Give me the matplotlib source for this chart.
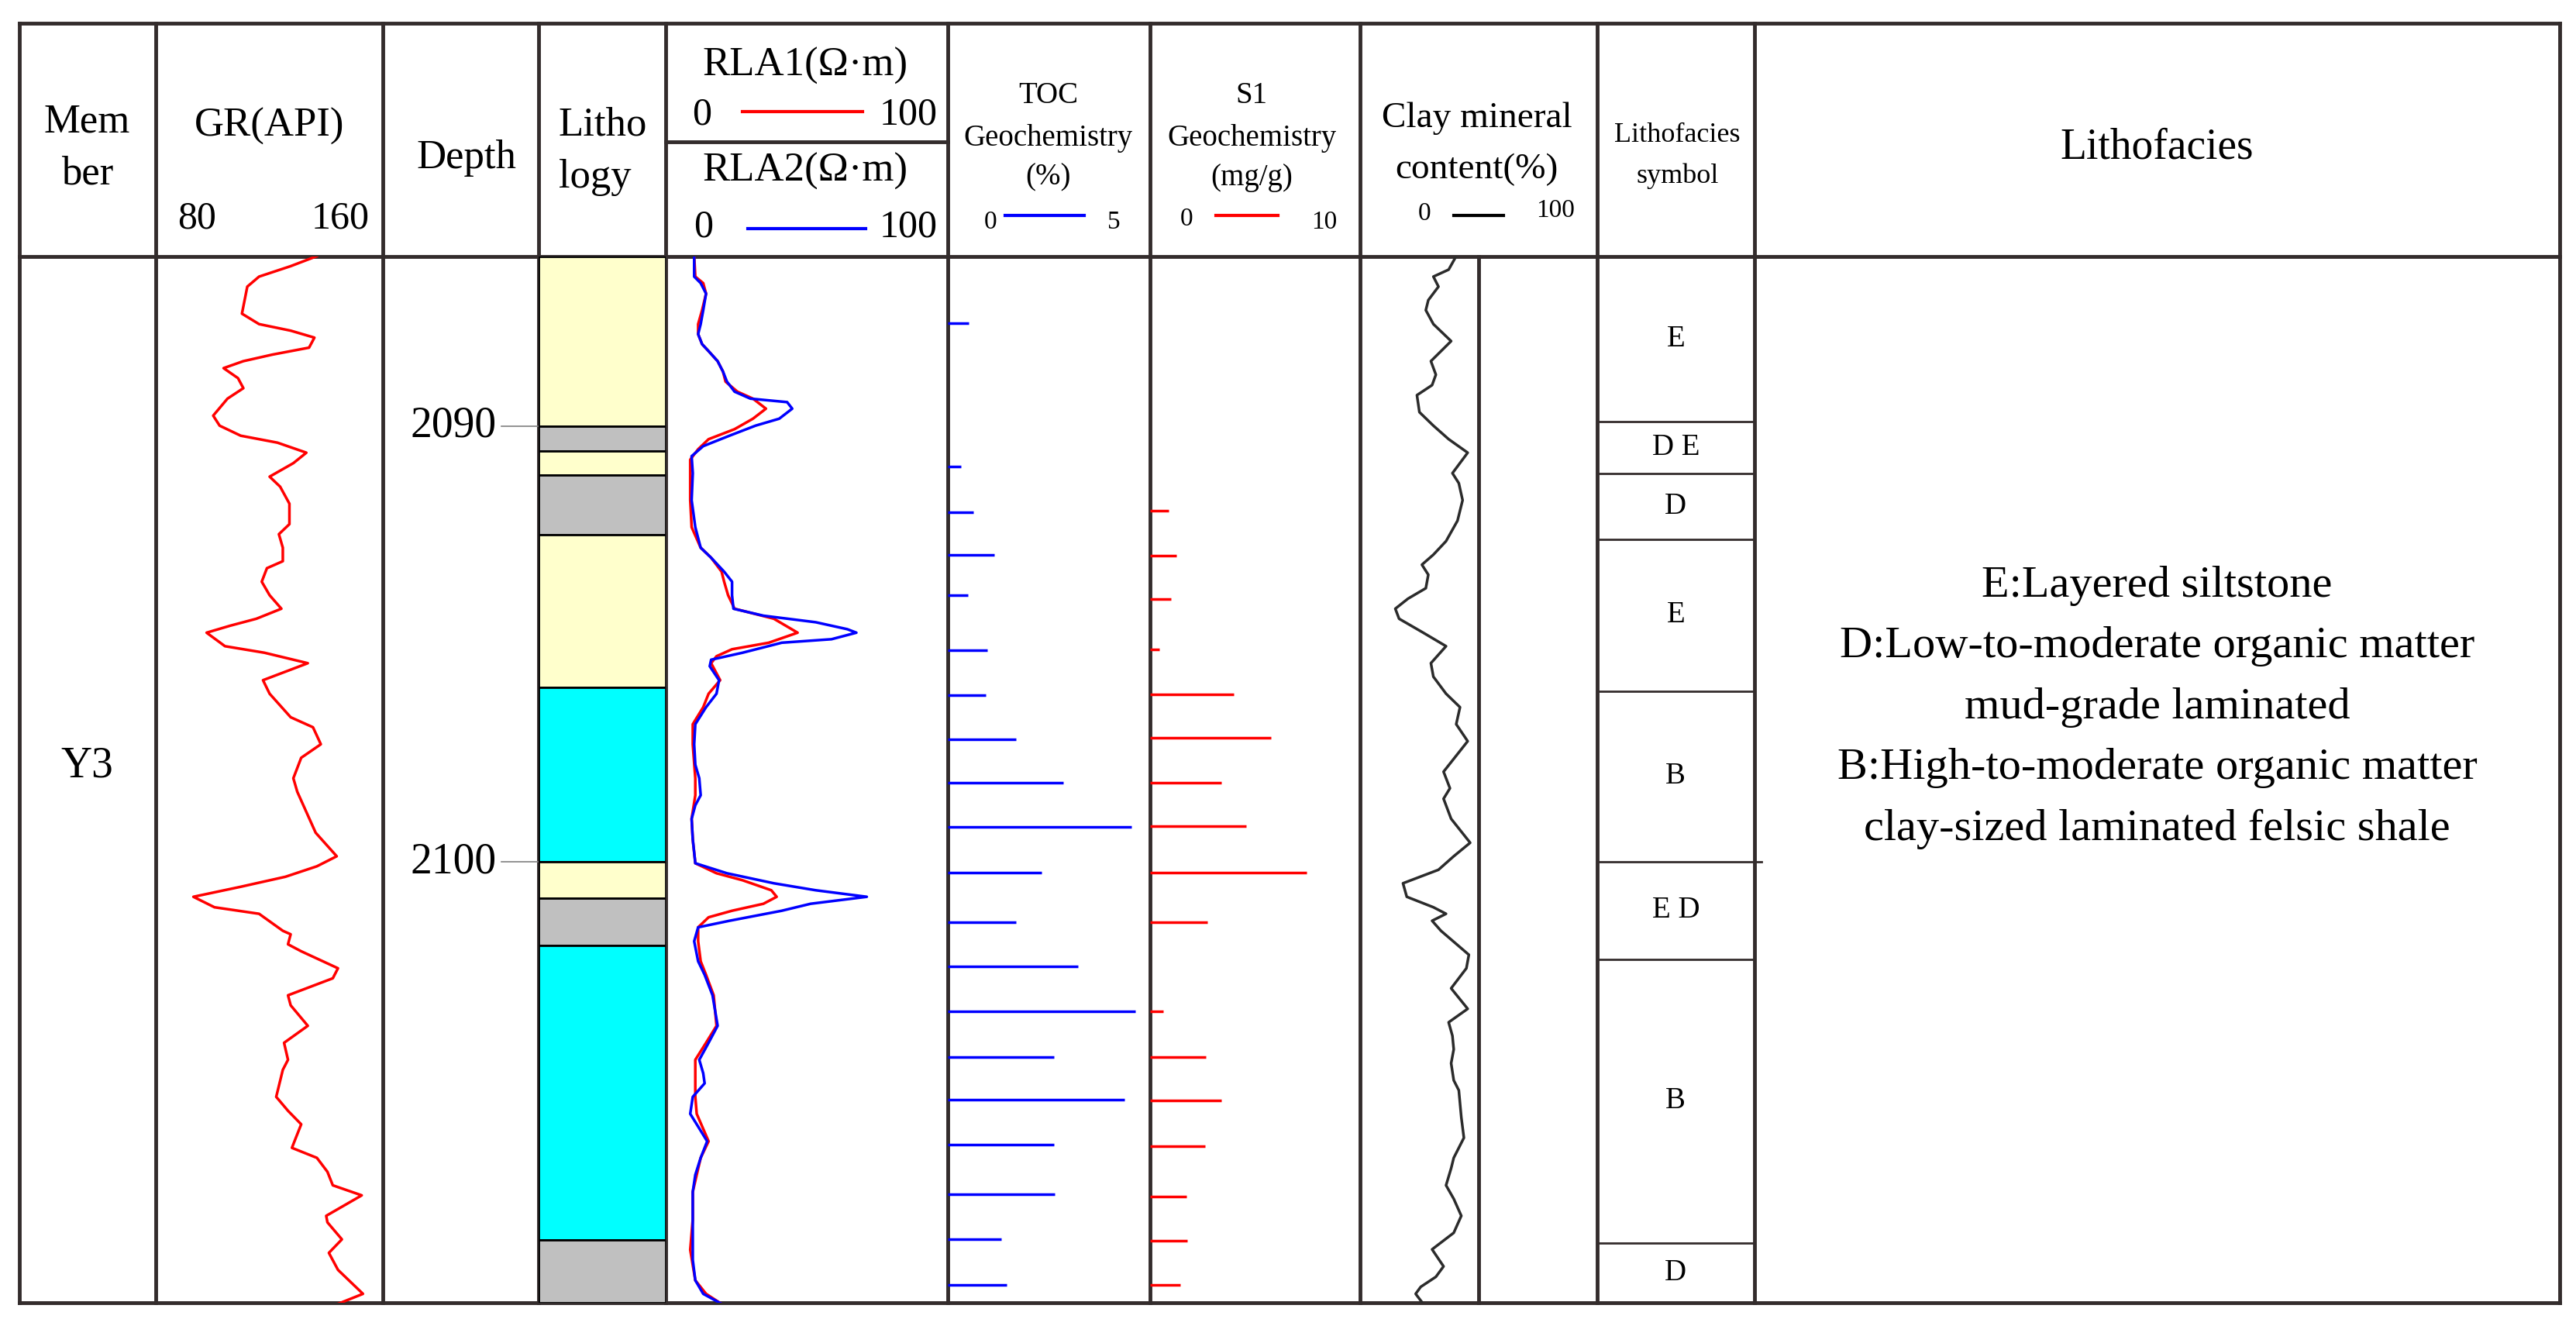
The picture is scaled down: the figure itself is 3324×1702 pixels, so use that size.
import matplotlib.pyplot as plt
from matplotlib.patches import Rectangle

plt.rcParams["font.family"] = ["Liberation Serif", "DejaVu Serif"]

# ---------------- data (depth in m) ----------------
gr_depth = [2086.10, 2086.33, 2086.57, 2086.80, 2087.42, 2087.66, 2087.81, 2087.97, 2088.20, 2088.36,
            2088.51, 2088.67, 2088.90, 2089.13, 2089.37, 2089.76, 2089.99, 2090.22, 2090.38, 2090.61,
            2090.85, 2091.16, 2091.39, 2091.78, 2092.25, 2092.48, 2092.79, 2093.10, 2093.26, 2093.57,
            2093.88, 2094.19, 2094.42, 2094.58, 2094.74, 2095.05, 2095.20, 2095.44, 2095.83, 2096.14,
            2096.68, 2096.91, 2097.30, 2097.61, 2098.08, 2098.39, 2099.33, 2099.87, 2100.10, 2100.34,
            2100.57, 2100.80, 2101.04, 2101.19, 2101.58, 2101.66, 2101.89, 2102.05, 2102.44, 2102.67,
            2103.06, 2103.29, 2103.76, 2104.15, 2104.54, 2104.77, 2105.39, 2105.71, 2106.02, 2106.33,
            2106.56, 2106.79, 2107.11, 2107.42, 2107.65, 2108.12, 2108.27, 2108.66, 2108.97, 2109.36,
            2109.91, 2110.14, 2110.31]
gr_value = [147.1, 132.4, 114.7, 108.1, 105.1, 114.7, 132.4, 145.7, 142.7, 122.1,
            105.9, 94.8, 102.9, 105.9, 97.0, 89.0, 92.6, 104.4, 125.0, 141.2,
            133.9, 120.6, 126.5, 131.7, 131.7, 125.8, 128.0, 128.0, 119.1, 116.2,
            120.6, 127.2, 113.2, 98.5, 85.3, 95.6, 117.7, 142.0, 116.9, 120.6,
            132.4, 144.9, 149.3, 138.3, 133.9, 136.1, 146.4, 158.2, 147.1, 129.5,
            104.4, 77.9, 89.7, 114.7, 128.0, 132.4, 130.9, 138.3, 158.9, 156.0,
            130.9, 132.4, 142.0, 128.7, 130.9, 128.0, 124.3, 130.9, 138.3, 135.3,
            133.1, 147.1, 153.0, 156.0, 172.2, 152.3, 153.0, 161.1, 153.8, 158.9,
            172.9, 158.9, 129.5]

rla2_depth = [2086.10, 2086.57, 2086.72, 2086.96, 2087.34, 2087.66, 2087.89, 2088.12, 2088.28, 2088.51,
              2088.75, 2088.98, 2089.21, 2089.37, 2089.45, 2089.60, 2089.83, 2089.99, 2090.22, 2090.46,
              2090.69, 2091.08, 2091.70, 2092.32, 2092.79, 2093.02, 2093.34, 2093.57, 2093.88, 2094.19,
              2094.35, 2094.50, 2094.66, 2094.74, 2094.89, 2094.97, 2095.20, 2095.36, 2095.51, 2095.83,
              2096.14, 2096.45, 2096.84, 2097.30, 2097.77, 2098.08, 2098.47, 2098.70, 2099.01, 2099.48,
              2100.03, 2100.26, 2100.49, 2100.65, 2100.80, 2100.96, 2101.12, 2101.35, 2101.50, 2101.82,
              2102.28, 2102.59, 2103.06, 2103.76, 2104.15, 2104.54, 2104.85, 2105.08, 2105.39, 2105.78,
              2106.02, 2106.41, 2106.79, 2107.18, 2107.57, 2108.20, 2109.13, 2109.60, 2109.91, 2110.14,
              2110.26]
rla2_value = [10.2, 10.2, 12.5, 14.4, 13.4, 12.5, 11.6, 13.0, 15.3, 18.5,
              20.4, 21.8, 24.5, 30.1, 43.1, 44.9, 40.3, 31.9, 22.7, 13.4,
              9.3, 9.7, 9.3, 10.6, 12.5, 16.2, 20.8, 23.6, 23.6, 24.1,
              34.7, 53.2, 64.4, 67.6, 58.8, 41.2, 27.3, 16.2, 15.7, 19.0,
              18.1, 14.4, 10.6, 10.2, 10.6, 12.0, 12.5, 10.6, 9.3, 9.7,
              10.6, 21.8, 38.4, 53.2, 71.3, 51.4, 41.2, 22.7, 11.6, 10.2,
              11.6, 13.9, 16.7, 18.5, 15.3, 12.0, 13.4, 13.9, 9.7, 8.8,
              11.1, 14.8, 12.5, 10.6, 9.7, 9.7, 9.7, 10.6, 13.4, 19.9,
              24.5]

rla1_depth = [2086.10, 2086.57, 2086.72, 2086.96, 2087.34, 2087.66, 2087.89, 2088.12, 2088.28, 2088.51,
              2088.75, 2088.98, 2089.21, 2089.37, 2089.60, 2089.83, 2090.07, 2090.30, 2090.53, 2090.77,
              2091.70, 2092.32, 2092.79, 2093.02, 2093.34, 2093.57, 2093.88, 2094.19, 2094.42, 2094.74,
              2094.97, 2095.12, 2095.28, 2095.44, 2095.83, 2096.14, 2096.45, 2096.84, 2097.30, 2098.08,
              2098.47, 2099.01, 2099.48, 2100.03, 2100.26, 2100.42, 2100.65, 2100.80, 2100.96, 2101.12,
              2101.27, 2101.50, 2101.82, 2102.28, 2102.59, 2103.06, 2103.76, 2104.15, 2104.54, 2105.08,
              2105.39, 2105.78, 2106.41, 2106.79, 2107.57, 2108.20, 2108.90, 2109.60, 2109.91, 2110.26]
rla1_value = [10.2, 10.6, 13.4, 14.4, 13.0, 11.6, 11.6, 13.0, 15.3, 18.5,
              20.4, 21.3, 25.5, 31.0, 35.6, 31.0, 24.5, 15.3, 11.6, 8.8,
              8.8, 9.3, 12.5, 16.2, 19.9, 20.8, 22.2, 24.5, 38.4, 46.8,
              36.6, 23.6, 18.1, 16.2, 19.4, 15.3, 13.4, 9.7, 9.7, 10.6,
              10.6, 9.3, 9.7, 10.6, 18.1, 27.3, 37.5, 39.4, 34.7, 23.6,
              15.3, 11.6, 11.6, 12.5, 14.4, 17.1, 18.1, 14.4, 10.6, 10.6,
              10.6, 11.1, 15.3, 12.5, 9.7, 9.7, 8.8, 10.6, 14.4, 22.7]

toc_depth = [2087.64, 2090.93, 2091.97, 2092.95, 2093.88, 2095.15, 2096.17, 2097.18, 2098.18, 2099.20,
             2100.25, 2101.38, 2102.40, 2103.42, 2104.47, 2105.45, 2106.49, 2107.63, 2108.66, 2109.70]
toc_value = [0.54, 0.34, 0.65, 1.20, 0.51, 1.01, 0.98, 1.75, 2.97, 4.73,
             2.41, 1.76, 3.35, 4.83, 2.72, 4.54, 2.72, 2.74, 1.38, 1.51]

s1_depth = [2091.94, 2092.98, 2093.97, 2095.12, 2096.15, 2097.15, 2098.18, 2099.17, 2100.25,
            2101.38, 2103.42, 2104.47, 2105.48, 2106.52, 2107.68, 2108.70, 2109.70]
s1_value = [0.92, 1.31, 1.02, 0.47, 4.12, 5.92, 3.48, 4.71, 7.68,
            2.82, 0.65, 2.75, 3.48, 2.71, 1.79, 1.82, 1.49]

clay_depth = [2086.10, 2086.41, 2086.57, 2086.80, 2087.11, 2087.34, 2087.66, 2088.05, 2088.51, 2088.82,
              2089.06, 2089.29, 2089.68, 2089.99, 2090.30, 2090.61, 2091.08, 2091.31, 2091.70, 2092.17,
              2092.64, 2092.95, 2093.18, 2093.41, 2093.72, 2093.96, 2094.19, 2094.42, 2094.74, 2095.05,
              2095.44, 2095.75, 2096.14, 2096.45, 2096.84, 2097.23, 2097.93, 2098.31, 2098.55, 2099.01,
              2099.56, 2099.87, 2100.18, 2100.49, 2100.80, 2101.04, 2101.19, 2101.35, 2101.58, 2102.13,
              2102.44, 2102.90, 2103.37, 2103.68, 2103.99, 2104.30, 2104.62, 2105.01, 2105.24, 2105.86,
              2106.33, 2106.79, 2107.03, 2107.42, 2107.73, 2108.12, 2108.51, 2108.89, 2109.28, 2109.52,
              2109.75, 2109.91, 2110.14, 2110.26]
clay_value = [81.1, 74.7, 61.8, 66.1, 57.5, 55.4, 61.8, 76.8, 59.7, 63.9,
              60.7, 47.9, 50.0, 61.8, 74.7, 90.8, 77.9, 83.3, 86.5, 82.2,
              72.5, 61.8, 52.1, 57.5, 55.4, 40.3, 29.6, 32.8, 53.2, 72.5,
              59.7, 61.8, 72.5, 84.3, 81.1, 90.8, 70.4, 75.8, 70.4, 76.8,
              92.9, 79.0, 66.1, 36.1, 39.3, 61.8, 72.5, 60.7, 68.2, 91.8,
              89.7, 76.8, 90.8, 74.7, 77.9, 79.0, 76.8, 79.0, 83.3, 85.4,
              87.6, 79.0, 76.8, 72.5, 79.0, 85.4, 79.0, 60.7, 70.4, 63.9,
              51.1, 46.8, 53.2, 53.2]

litho_top = [2086.11, 2090.00, 2090.57, 2091.13, 2092.49, 2096.00, 2100.00, 2100.83, 2101.92, 2108.68]
litho_bottom = [2090.00, 2090.57, 2091.13, 2092.49, 2096.00, 2100.00, 2100.83, 2101.92, 2108.68, 2110.11]
litho_type = ["silt", "mud", "silt", "mud", "silt", "shale", "silt", "mud", "shale", "mud"]
litho_colors = {"silt": "#FFFFCC", "mud": "#C0C0C0", "shale": "#00FFFF"}

facies_bounds = [2086.11, 2089.89, 2091.09, 2092.60, 2096.08, 2100.00, 2102.23, 2108.75, 2110.11]
facies_labels = ["E", "D E", "D", "E", "B", "E D", "B", "D"]

depth_ticks = [2090, 2100]
description = ["E:Layered siltstone",
               "D:Low-to-moderate organic matter",
               "mud-grade laminated",
               "B:High-to-moderate organic matter",
               "clay-sized laminated felsic shale"]

# ---------------- layout (in 1568 x 802 sketch units) ----------------
W, H = 1568.0, 802.0
col_x = [12, 95, 233, 328, 405, 577, 700, 828, 972, 1068, 1558]
top_y, head_y, bot_y = 14, 156, 792
d_top, d_bot = 2086.11, 2110.11
frame = "#332c2c"

fig = plt.figure(figsize=(33.24, 17.02), dpi=100)
bg = fig.add_axes([0, 0, 1, 1])
bg.set_xlim(0, W)
bg.set_ylim(H, 0)
bg.axis("off")


def dy(d):
    return head_y + (d - d_top) / (d_bot - d_top) * (bot_y - head_y)


def track(x0, x1, xlim):
    ax = fig.add_axes([x0 / W, 1 - bot_y / H, (x1 - x0) / W, (bot_y - head_y) / H])
    ax.set_xlim(*xlim)
    ax.set_ylim(d_bot, d_top)
    ax.axis("off")
    ax.patch.set_alpha(0)
    return ax


# lithology
ax_l = track(col_x[3], col_x[4], (0, 1))
for t, b, k in zip(litho_top, litho_bottom, litho_type):
    ax_l.add_patch(Rectangle((0, t), 1, b - t, facecolor=litho_colors[k],
                             edgecolor="black", linewidth=2))

# GR
ax_gr = track(col_x[1], col_x[2], (57, 184))
ax_gr.plot(gr_value, gr_depth, color="red", linewidth=2.5)

# resistivity
ax_r = track(col_x[4], col_x[5], (0, 100))
ax_r.plot(rla1_value, rla1_depth, color="red", linewidth=2.5)
ax_r.plot(rla2_value, rla2_depth, color="blue", linewidth=2.5)

# TOC
ax_t = track(col_x[5], col_x[6], (0, 5.2))
ax_t.hlines(toc_depth, 0, toc_value, color="blue", linewidth=2.5)

# S1
ax_s = track(col_x[6], col_x[7], (0, 10.3))
ax_s.hlines(s1_depth, 0, s1_value, color="red", linewidth=2.5)

# clay
ax_c = track(col_x[7], 900, (0, 100))
ax_c.plot(clay_value, clay_depth, color="#2b2b2b", linewidth=2.5)

# ---------------- frame ----------------
lw = 3.5
for x in col_x:
    bg.plot([x, x], [top_y, bot_y], color=frame, linewidth=lw)
for y in (top_y, head_y, bot_y):
    bg.plot([col_x[0], col_x[-1]], [y, y], color=frame, linewidth=lw)
bg.plot([col_x[4], col_x[5]], [86, 86], color=frame, linewidth=lw)
bg.plot([900, 900], [head_y, bot_y], color=frame, linewidth=lw)

for b in facies_bounds[1:-1]:
    bg.plot([col_x[8], col_x[9]], [dy(b), dy(b)], color=frame, linewidth=2)
bg.plot([col_x[9], 1072], [dy(2100), dy(2100)], color=frame, linewidth=2)
for lab, t, b in zip(facies_labels, facies_bounds[:-1], facies_bounds[1:]):
    bg.text((col_x[8] + col_x[9]) / 2, dy((t + b) / 2), lab, ha="center", va="center", fontsize=28)

for d in depth_ticks:
    bg.plot([305, col_x[3]], [dy(d), dy(d)], color="gray", linewidth=1.2)
    bg.text(302, dy(d), str(d), ha="right", va="center", fontsize=40)

for i, line in enumerate(description):
    bg.text(1313, 356 + i * 37, line, ha="center", va="center", fontsize=42)

bg.text(53, 466, "Y3", ha="center", va="center", fontsize=40)

# ---------------- headers ----------------
big = 38
bg.text(53, 74, "Mem", ha="center", va="center", fontsize=big)
bg.text(53, 106, "ber", ha="center", va="center", fontsize=big)
bg.text(164, 77, "GR(API)", ha="center", va="center", fontsize=big)
bg.text(120, 133, "80", ha="center", va="center", fontsize=big - 2)
bg.text(207, 133, "160", ha="center", va="center", fontsize=big - 2)
bg.text(284, 96, "Depth", ha="center", va="center", fontsize=big)
bg.text(367, 76, "Litho", ha="center", va="center", fontsize=big)
bg.text(362, 108, "logy", ha="center", va="center", fontsize=big)

bg.text(490, 40, "RLA1(Ω·m)", ha="center", va="center", fontsize=big)
bg.text(427, 70, "0", ha="center", va="center", fontsize=big - 2)
bg.plot([452, 525], [68, 68], color="red", linewidth=3)
bg.text(553, 70, "100", ha="center", va="center", fontsize=big - 2)
bg.text(490, 104, "RLA2(Ω·m)", ha="center", va="center", fontsize=big)
bg.text(428, 138, "0", ha="center", va="center", fontsize=big - 2)
bg.plot([455, 527], [139, 139], color="blue", linewidth=3)
bg.text(553, 138, "100", ha="center", va="center", fontsize=big - 2)

small = 28
bg.text(638, 58, "TOC", ha="center", va="center", fontsize=small)
bg.text(638, 84, "Geochemistry", ha="center", va="center", fontsize=small)
bg.text(638, 108, "(%)", ha="center", va="center", fontsize=small)
bg.text(603, 135, "0", ha="center", va="center", fontsize=small - 4)
bg.plot([612, 660], [131, 131], color="blue", linewidth=3)
bg.text(678, 135, "5", ha="center", va="center", fontsize=small - 4)

bg.text(762, 58, "S1", ha="center", va="center", fontsize=small)
bg.text(762, 84, "Geochemistry", ha="center", va="center", fontsize=small)
bg.text(762, 108, "(mg/g)", ha="center", va="center", fontsize=small)
bg.text(722, 133, "0", ha="center", va="center", fontsize=small - 4)
bg.plot([740, 778], [131, 131], color="red", linewidth=3)
bg.text(806, 135, "10", ha="center", va="center", fontsize=small - 4)

bg.text(899, 72, "Clay mineral", ha="center", va="center", fontsize=big - 4)
bg.text(899, 103, "content(%)", ha="center", va="center", fontsize=big - 4)
bg.text(867, 130, "0", ha="center", va="center", fontsize=small - 4)
bg.plot([885, 915], [131, 131], color="black", linewidth=3)
bg.text(947, 128, "100", ha="center", va="center", fontsize=small - 4)

bg.text(1021, 82, "Lithofacies", ha="center", va="center", fontsize=small - 2)
bg.text(1021, 107, "symbol", ha="center", va="center", fontsize=small - 2)
bg.text(1313, 90, "Lithofacies", ha="center", va="center", fontsize=big + 2)

fig.savefig("out.png", dpi=100)
